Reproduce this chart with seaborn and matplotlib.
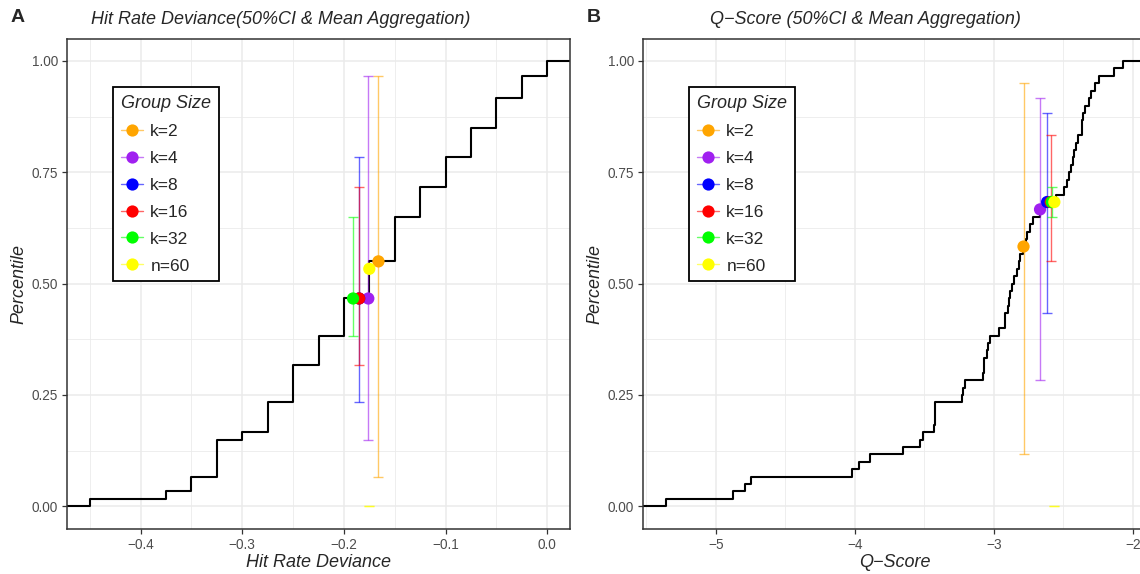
import numpy as np
import pandas as pd
import matplotlib
matplotlib.use("Agg")
import matplotlib.pyplot as plt
import matplotlib.colors as mcolors
import seaborn as sns
from matplotlib.lines import Line2D

# ---------------- data ----------------
groups = ["k=2", "k=4", "k=8", "k=16", "k=32", "n=60"]
colors = ["#FFA500", "#A020F0", "#0000FF", "#FF0000", "#00FF00", "#FFFF00"]

# Panel A: hit rate deviance of the 60 individuals (distinct values and counts)
hr_levels = [-0.45, -0.375, -0.35, -0.325, -0.3, -0.275, -0.25, -0.225, -0.2,
             -0.175, -0.15, -0.125, -0.1, -0.075, -0.05, -0.025, 0.0]
hr_counts = [1, 1, 2, 5, 1, 4, 5, 4, 5, 5, 6, 4, 4, 4, 4, 3, 2]
hr_point_x = [-0.166, -0.176, -0.185, -0.185, -0.191, -0.175]
hr_point_y = [0.55, 0.4667, 0.4667, 0.4667, 0.4667, 0.5333]
hr_ci_low = [0.0667, 0.15, 0.2333, 0.3167, 0.3833, 0.0]
hr_ci_high = [0.9667, 0.9667, 0.7833, 0.7167, 0.65, 0.0]

# Panel B: Q-scores of the 60 individuals
q_values = [-5.36, -4.88, -4.79, -4.75, -4.02, -3.97, -3.89, -3.65, -3.53, -3.51,
            -3.43, -3.42, -3.42, -3.42, -3.23, -3.22, -3.21, -3.08, -3.07, -3.07,
            -3.05, -3.04, -3.03, -2.96, -2.92, -2.92, -2.90, -2.89, -2.88, -2.87,
            -2.855, -2.83, -2.82, -2.81, -2.79, -2.77, -2.76, -2.74, -2.72, -2.67,
            -2.63, -2.55, -2.495, -2.476, -2.457, -2.445, -2.428, -2.421, -2.409, -2.397,
            -2.368, -2.368, -2.356, -2.342, -2.318, -2.30, -2.272, -2.242, -2.136, -2.069]
q_point_x = [-2.786, -2.667, -2.616, -2.590, -2.583, -2.564]
q_point_y = [0.5833, 0.6667, 0.6833, 0.6833, 0.6833, 0.6833]
q_ci_low = [0.1167, 0.2833, 0.4333, 0.55, 0.65, 0.0]
q_ci_high = [0.95, 0.9167, 0.8833, 0.8333, 0.7167, 0.0]

y_ticks = [0.0, 0.25, 0.5, 0.75, 1.0]
y_ticklabels = ["0.00", "0.25", "0.50", "0.75", "1.00"]
hr_xticks = [-0.4, -0.3, -0.2, -0.1, 0.0]
hr_xticklabels = ["\u22120.4", "\u22120.3", "\u22120.2", "\u22120.1", "0.0"]
q_xticks = [-5, -4, -3, -2]
q_xticklabels = ["\u22125", "\u22124", "\u22123", "\u22122"]

# ---------------- style ----------------
sns.set_theme(style="white")
plt.rcParams['font.family'] = ['Liberation Sans', 'DejaVu Sans']
plt.rcParams['axes.unicode_minus'] = True

W, H = 1140, 574
fig = plt.figure(figsize=(W / 100, H / 100), dpi=100)
fig.patch.set_facecolor("white")

top_px, bot_px = 38.7, 528.6
axA = fig.add_axes([67 / W, (H - bot_px) / H, 503 / W, (bot_px - top_px) / H])
axB = fig.add_axes([643 / W, (H - bot_px) / H, 503 / W, (bot_px - top_px) / H])

palette = dict(zip(groups, colors))


def draw_panel(ax, values, px, py, lo, hi, xticks, xticklabels, xminor, xlabel):
    values = np.asarray(values, float)
    sns.ecdfplot(x=values, ax=ax, color="black", linewidth=1.5, zorder=2)
    vmin, vmax = values.min(), values.max()
    pad = 0.05 * (vmax - vmin)
    lo_lim, hi_lim = vmin - pad, vmax + pad
    ax.set_xlim(lo_lim, hi_lim)
    ax.set_ylim(-0.05, 1.05)
    # extend the ECDF step line to both panel edges (like ggplot's stat_ecdf pad)
    line = ax.lines[0]
    xd = np.asarray(line.get_xdata(), float)
    yd = np.asarray(line.get_ydata(), float)
    xd = np.where(np.isinf(xd), lo_lim, xd)
    xd = np.r_[xd, hi_lim]
    yd = np.r_[yd, yd[-1]]
    line.set_data(xd, yd)

    # error bars (50% CI)
    for x, l, h, c in zip(px, lo, hi, colors):
        ax.errorbar(x, (l + h) / 2, yerr=(h - l) / 2, fmt="none", ecolor=c,
                    elinewidth=1.0, capsize=3.6, capthick=1.0, alpha=0.6, zorder=3)

    df = pd.DataFrame({"x": px, "y": py, "group": groups})
    sns.scatterplot(data=df, x="x", y="y", hue="group", palette=palette, s=78,
                    linewidth=0, legend=False, zorder=4, ax=ax)

    ax.set_xticks(xticks)
    ax.set_xticklabels(xticklabels)
    ax.set_yticks(y_ticks)
    ax.set_yticklabels(y_ticklabels)
    ax.xaxis.set_minor_locator(matplotlib.ticker.MultipleLocator(xminor))
    ax.yaxis.set_minor_locator(matplotlib.ticker.MultipleLocator(0.125))
    ax.set_axisbelow(True)
    ax.grid(which="major", color="#EBEBEB", linewidth=1.1)
    ax.grid(which="minor", color="#EBEBEB", linewidth=0.6)
    ax.tick_params(which="major", direction="out", length=3.5, width=0.9,
                   color="#333333", labelsize=9.8, labelcolor="#4D4D4D",
                   bottom=True, left=True, pad=3)
    ax.tick_params(which="minor", length=0)
    for sp in ax.spines.values():
        sp.set_visible(True)
        sp.set_color("#333333")
        sp.set_linewidth(1.1)

    ax.set_xlabel(xlabel, fontsize=13, style="italic", va="center")
    ax.xaxis.set_label_coords(0.5, -0.069)
    ax.set_ylabel("Percentile", fontsize=13, style="italic", va="center")
    ax.yaxis.set_label_coords(-0.096, 0.5)

    handles = [Line2D([], [], color=mcolors.to_rgba(c, 0.6), lw=1.0, marker="o",
                      markersize=8.8, markerfacecolor=c, markeredgecolor=c,
                      markeredgewidth=0)
               for c in colors]
    leg = ax.legend(handles, groups, title="Group Size", loc="upper left",
                    bbox_to_anchor=(0.0915, 0.9015), frameon=True, fancybox=False,
                    edgecolor="black", framealpha=1, fontsize=12.5,
                    title_fontproperties={"style": "italic", "size": 13},
                    handlelength=1.25, handletextpad=0.45, labelspacing=0.68,
                    borderpad=0.45, borderaxespad=0, alignment="left", numpoints=1)
    leg.get_frame().set_linewidth(1.3)
    leg.set_zorder(6)


draw_panel(axA, np.repeat(hr_levels, hr_counts), hr_point_x, hr_point_y,
           hr_ci_low, hr_ci_high, hr_xticks, hr_xticklabels, 0.05, "Hit Rate Deviance")
draw_panel(axB, q_values, q_point_x, q_point_y, q_ci_low, q_ci_high,
           q_xticks, q_xticklabels, 0.5, "Q\u2212Score")

# titles and panel tags
fig.text(281 / W, 1 - 19 / H, "Hit Rate Deviance(50%CI & Mean Aggregation)",
         ha="center", va="center", fontsize=13, style="italic")
fig.text(865 / W, 1 - 19 / H, "Q\u2212Score (50%CI & Mean Aggregation)",
         ha="center", va="center", fontsize=13, style="italic")
fig.text(18 / W, 1 - 18 / H, "A", ha="center", va="center", fontsize=14, weight="bold")
fig.text(594 / W, 1 - 18 / H, "B", ha="center", va="center", fontsize=14, weight="bold")

fig.savefig("out.png", dpi=100, facecolor="white")
